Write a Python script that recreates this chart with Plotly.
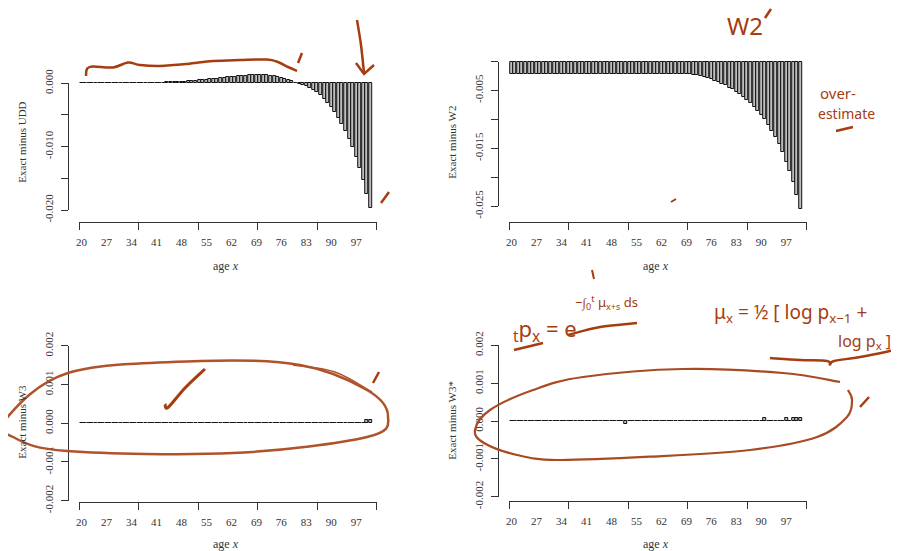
import plotly.graph_objects as go

# page size and the page's default body margin (figure sits 8px in from the corner)
PAGE_W, PAGE_H = 899, 551
OFF = 8
W, H = PAGE_W - OFF, PAGE_H - OFF

# ---------------- data ----------------
ages = list(range(20, 102))
label_ages = [20, 27, 34, 41, 48, 55, 62, 69, 76, 83, 90, 97]

exact_minus_udd = [
    0.00001, 0.00003, 0.00001, 0.00002, 0.00001, 0.00002, 0.00003, 0.00002, 0.00003, 0.00002,
    0.00002, 0.00003, 0.00003, 0.00004, 0.00004, 0.00005, 0.00005, 0.00006, 0.00007, 0.00008,
    0.00009, 0.00010, 0.00011, 0.00012, 0.00014, 0.00016, 0.00018, 0.00021, 0.00024, 0.00028,
    0.00032, 0.00036, 0.00041, 0.00046, 0.00051, 0.00057, 0.00063, 0.00069, 0.00075, 0.00081,
    0.00087, 0.00093, 0.00099, 0.00105, 0.00110, 0.00116, 0.00121, 0.00126, 0.00130, 0.00133,
    0.00134, 0.00132, 0.00127, 0.00120, 0.00111, 0.00099, 0.00085, 0.00069, 0.00051, 0.00032,
    0.00012, -0.00005, -0.0002, -0.0004, -0.0007, -0.0010, -0.0014, -0.0019, -0.0025, -0.0031,
    -0.0038, -0.0046, -0.0055, -0.0065, -0.0076, -0.0088, -0.0101, -0.0116, -0.0133, -0.0152,
    -0.0174, -0.0197,
]

exact_minus_w2 = (
    [-0.00222] * 21 + [-0.00215] * 22 + [-0.0022] * 7 +
    [-0.0022, -0.0023, -0.0024, -0.0025, -0.0027, -0.0029, -0.0031, -0.0033, -0.0036, -0.0039,
     -0.0041, -0.0045, -0.0048, -0.0053, -0.0057, -0.0062, -0.0067, -0.0072, -0.0078, -0.0085,
     -0.0093, -0.0100, -0.0109, -0.0120, -0.0130, -0.0143, -0.0157, -0.0173, -0.0190, -0.0209,
     -0.0230, -0.0255]
)

exact_minus_w3 = [0.000001] * 80 + [0.00008, 0.00008]

exact_minus_w3star = [0.000001] * 82
exact_minus_w3star[52 - 20] = -0.00009
exact_minus_w3star[91 - 20] = 0.00008
exact_minus_w3star[97 - 20] = 0.00008
exact_minus_w3star[99 - 20] = 0.00008
exact_minus_w3star[100 - 20] = 0.00008
exact_minus_w3star[101 - 20] = 0.00008

udd_labeled = [0.0, -0.010, -0.020]
udd_labels = ["0.000", "-0.010", "-0.020"]
udd_minor = [-0.005, -0.015]
w2_labeled = [-0.005, -0.015, -0.025]
w2_labels = ["-0.005", "-0.015", "-0.025"]
w2_minor = [0.0, -0.010, -0.020]
small_labeled = [0.002, 0.001, 0.0, -0.001, -0.002]
small_labels = ["0.002", "0.001", "0.000", "-0.001", "-0.002"]
x_axis_ticks = [0, 20, 40, 60, 80, 100]

titles = ["Exact minus UDD", "Exact minus W2", "Exact minus W3", "Exact minus W3*"]

# ---------------- barplot geometry (R style: width 1, space 0.2) ----------------
n = len(ages)
centers = [0.7 + 1.2 * i for i in range(n)]
lo, hi = 0.2, 1.2 * n
ext = 0.04 * (hi - lo)
xlim = [lo - ext, hi + ext]

PXU = 2.976  # pixels per bar unit
FONT = "Liberation Serif"
INK = "#333333"

panels = [
    dict(vals=exact_minus_udd, tick0=79.3, ref=(0.0, 83.3, -0.020, 210.0), box=(62, 216),
         xline=222.3, yt=udd_labeled, ytt=udd_labels, ym=udd_minor,
         tx=21.7, ty=142, ax=226, ay=266),
    dict(vals=exact_minus_w2, tick0=509.3, ref=(0.0, 61.5, -0.025, 206.2), box=(50, 215),
         xline=221.7, yt=w2_labeled, ytt=w2_labels, ym=w2_minor,
         tx=451.7, ty=142, ax=656, ay=266),
    dict(vals=exact_minus_w3, tick0=79.3, ref=(0.002, 345.7, -0.002, 500.7), box=(338, 500),
         xline=501.7, yt=small_labeled, ytt=small_labels, ym=[],
         tx=21.7, ty=422, ax=226, ay=544),
    dict(vals=exact_minus_w3star, tick0=509.3, ref=(0.002, 345.3, -0.002, 496.7), box=(338, 498),
         xline=500.7, yt=small_labeled, ytt=small_labels, ym=[],
         tx=451.7, ty=420, ax=656, ay=544),
]


def fx(px):
    return (px - OFF) / W


def fy(py):
    return 1 - (py - OFF) / H


fig = go.Figure()
layout = {}
annotations = []

for k, p in enumerate(panels, start=1):
    v0, p0, v1, p1 = p["ref"]

    def val_at(py, v0=v0, p0=p0, v1=v1, p1=p1):
        return v0 + (py - p0) * (v1 - v0) / (p1 - p0)

    def px_of(v, v0=v0, p0=p0, v1=v1, p1=p1):
        return p0 + (v - v0) * (p1 - p0) / (v1 - v0)

    left = p["tick0"] + xlim[0] * PXU
    right = p["tick0"] + xlim[1] * PXU
    top, bot = p["box"]
    sx = "" if k == 1 else str(k)
    kx = str(k + 4)

    fig.add_trace(go.Bar(
        x=centers, y=p["vals"], width=1.0,
        marker=dict(color="#bebebe", line=dict(color="#111111", width=1)),
        xaxis="x" + sx, yaxis="y" + sx, showlegend=False, hoverinfo="skip",
    ))
    fig.add_trace(go.Scatter(x=[], y=[], xaxis="x" + kx, yaxis="y" + kx,
                             showlegend=False, hoverinfo="skip"))

    layout["xaxis" + sx] = dict(
        domain=[fx(left), fx(right)], range=xlim, anchor="free", position=fy(p["xline"]),
        tickvals=[centers[ages.index(a)] for a in label_ages],
        ticktext=[str(a) for a in label_ages],
        ticks="", showline=False, showgrid=False, zeroline=False, automargin=False,
        tickfont=dict(family=FONT, size=11, color=INK), ticklabelstandoff=12,
    )
    layout["yaxis" + sx] = dict(
        domain=[fy(bot), fy(top)], range=[val_at(bot), val_at(top)], anchor="x" + sx,
        showticklabels=False, ticks="", showgrid=False, zeroline=False, showline=False,
        automargin=False,
    )
    all_y = p["yt"] + p["ym"]
    ymin, ymax = min(all_y), max(all_y)
    layout["xaxis" + kx] = dict(
        domain=[fx(p["tick0"]), fx(p["tick0"] + 100 * PXU)], range=[0, 100],
        tickvals=x_axis_ticks, showticklabels=False, ticks="outside", ticklen=7,
        tickcolor=INK, tickwidth=1, showline=True, linecolor=INK, linewidth=1,
        anchor="free", position=fy(p["xline"]), showgrid=False, zeroline=False,
        automargin=False,
    )
    layout["yaxis" + kx] = dict(
        domain=[fy(px_of(ymin)), fy(px_of(ymax))], range=[ymin, ymax],
        tickvals=p["yt"], ticktext=p["ytt"], tickangle=-90,
        ticks="outside", ticklen=7, tickcolor=INK, tickwidth=1,
        minor=dict(tickvals=p["ym"], ticks="outside", ticklen=7, tickcolor=INK, tickwidth=1,
                   showgrid=False),
        showline=True, linecolor=INK, linewidth=1,
        anchor="free", position=fx(left), showgrid=False, zeroline=False,
        tickfont=dict(family=FONT, size=11, color=INK), ticklabelstandoff=4,
        automargin=False,
    )
    annotations.append(dict(text=titles[k - 1], x=fx(p["tx"]), y=fy(p["ty"]), xref="paper",
                            yref="paper", showarrow=False, textangle=-90,
                            xanchor="center", yanchor="middle",
                            font=dict(family=FONT, size=11, color=INK)))
    annotations.append(dict(text="age <i>x</i>", x=fx(p["ax"]), y=fy(p["ay"]), xref="paper",
                            yref="paper", showarrow=False, xanchor="center", yanchor="middle",
                            font=dict(family=FONT, size=12, color=INK)))

# ---------------- handwritten overlay ----------------
BROWN = "#a63c0f"


def smooth(points, closed=False):
    pts = [(fx(x), fy(y)) for x, y in points]
    m = len(pts)
    d = "M %.5f,%.5f" % pts[0]
    rng = range(m) if closed else range(m - 1)
    for i in rng:
        q0 = pts[i - 1] if (i > 0 or closed) else pts[i]
        q1 = pts[i]
        q2 = pts[(i + 1) % m]
        q3 = pts[(i + 2) % m] if (closed or i + 2 < m) else q2
        c1 = (q1[0] + (q2[0] - q0[0]) / 6, q1[1] + (q2[1] - q0[1]) / 6)
        c2 = (q2[0] - (q3[0] - q1[0]) / 6, q2[1] - (q3[1] - q1[1]) / 6)
        d += " C %.5f,%.5f %.5f,%.5f %.5f,%.5f" % (c1 + c2 + q2)
    if closed:
        d += " Z"
    return d


def poly(points):
    pts = [(fx(x), fy(y)) for x, y in points]
    return "M " + " L ".join("%.5f,%.5f" % q for q in pts)


strokes = [
    (smooth([(86, 76), (87, 69), (93, 66.5), (113, 67.5), (128, 62.5), (140, 65), (160, 66),
             (187, 64), (213, 61), (240, 60), (267, 59.5), (278, 62), (288, 67), (297, 71)]), BROWN, 2.5),
    (poly([(298, 63), (302, 53)]), BROWN, 2.5),
    (smooth([(357, 20), (361, 45), (364, 73)]), BROWN, 2.5),
    (poly([(356, 63), (364, 74), (374, 65)]), BROWN, 2.5),
    (poly([(381, 203), (389, 192)]), BROWN, 2.5),
    (poly([(765, 18), (771, 9)]), BROWN, 2.5),
    (poly([(836, 131), (853, 127)]), BROWN, 2.5),
    (poly([(671, 202), (676, 199)]), BROWN, 2),
    (poly([(592, 270), (594, 279)]), BROWN, 2),
    (smooth([(388, 416), (367, 390), (300, 365), (200, 361), (68, 373), (5, 420), (13, 437),
             (67, 451), (233, 453), (367, 437)], closed=True), "#b0522a", 2.5),
    (smooth([(293, 365), (335, 372), (372, 392)]), "#b0522a", 1.5),
    (smooth([(165, 404), (168, 407.5), (185, 388), (205, 369)]), BROWN, 3),
    (poly([(373, 383), (379, 372)]), BROWN, 2.5),
    (smooth([(840, 382), (783, 373), (683, 369), (583, 377), (533, 390), (490, 410), (475, 430),
             (484, 443), (517, 455), (557, 460), (650, 456.7), (750, 450), (817, 437), (847, 417),
             (852, 400), (848, 390)]), "#a84a22", 2.2),
    (poly([(860, 407), (869, 397)]), BROWN, 2.5),
    (poly([(514, 350), (543, 343)]), BROWN, 2.5),
    (smooth([(568, 335), (600, 327), (637, 323)]), BROWN, 2.5),
    (smooth([(770, 358), (800, 360), (827, 361), (830, 364.5), (834, 361), (860, 357), (895, 350)]), BROWN, 2.5),
]
shapes = [dict(type="path", path=d, xref="paper", yref="paper", line=dict(color=c, width=w))
          for d, c, w in strokes]

HAND = "Noto Sans"
notes = [
    ("W2", 745, 25, 24, "center"),
    ("over-", 818, 93, 15, "left"),
    ("estimate", 816, 114, 14, "left"),
    ("<sub>t</sub>p<sub>x</sub> = e", 545, 330, 22, "center"),
    ("−∫<sub>0</sub><sup>t</sup> μ<sub>x+s</sub> ds", 606, 302, 13, "center"),
    ("μ<sub>x</sub> = ½ [ log p<sub>x−1</sub> +", 790, 313, 19, "center"),
    ("log p<sub>x</sub> ]", 864, 341, 16, "center"),
]
for t, x, y, s, xa in notes:
    annotations.append(dict(text=t, x=fx(x), y=fy(y), xref="paper", yref="paper", showarrow=False,
                            xanchor=xa, yanchor="middle",
                            font=dict(family=HAND, size=s, color=BROWN)))

layout.update(
    template="none",
    width=W, height=H, autosize=False,
    margin=dict(l=0, r=0, t=0, b=0, pad=0),
    paper_bgcolor="white", plot_bgcolor="rgba(0,0,0,0)",
    bargap=0, showlegend=False,
    annotations=annotations, shapes=shapes,
)
fig.update_layout(**layout)
fig.write_html("out.html")
